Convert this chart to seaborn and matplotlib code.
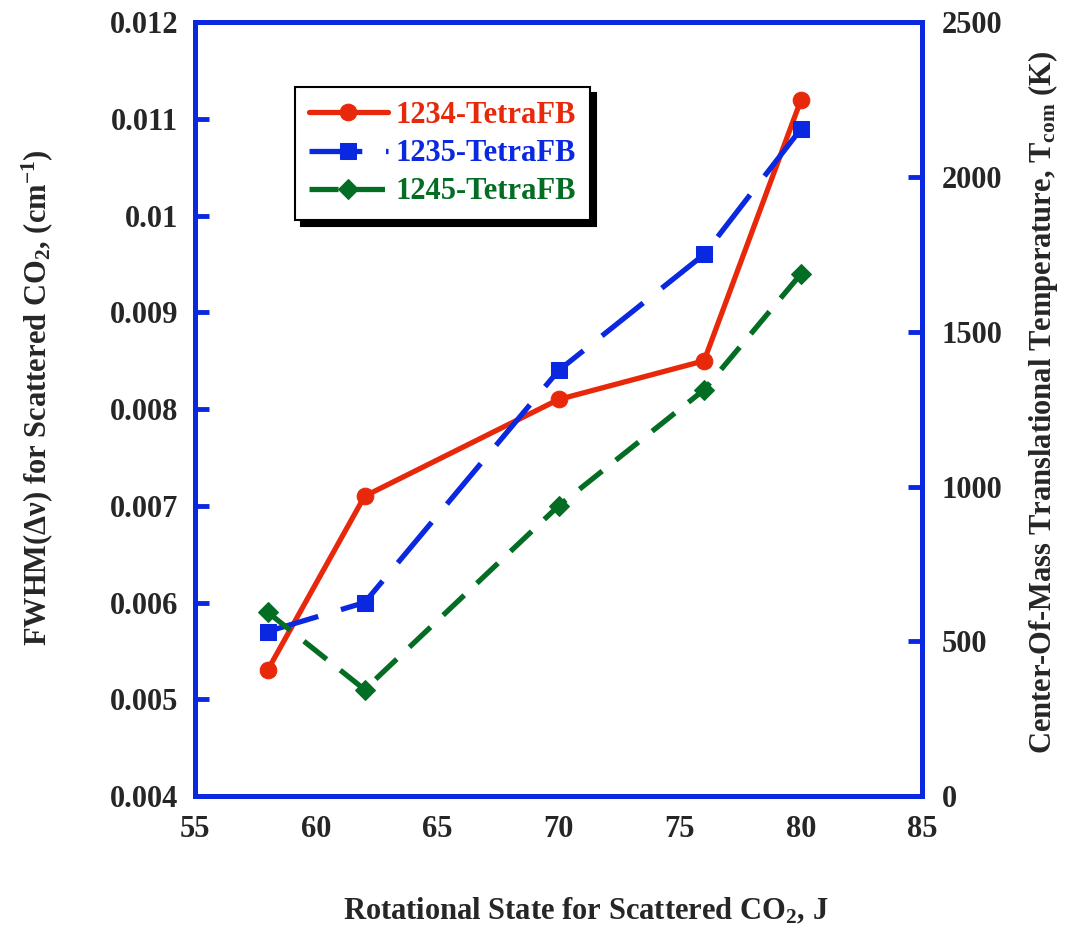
import matplotlib
matplotlib.use("Agg")
import matplotlib.pyplot as plt
import seaborn as sns
import numpy as np
import pandas as pd
from matplotlib.ticker import FuncFormatter, MultipleLocator

J = [58, 62, 70, 76, 80]
fwhm_1234 = [0.0053, 0.0071, 0.0081, 0.0085, 0.0112]
fwhm_1235 = [0.0057, 0.0060, 0.0084, 0.0096, 0.0109]
fwhm_1245 = [0.0059, 0.0051, 0.0070, 0.0082, 0.0094]
series_names = ["1234-TetraFB", "1235-TetraFB", "1245-TetraFB"]

sns.set_style("white")
plt.rcParams['font.family'] = ['Liberation Serif', 'DejaVu Serif']
plt.rcParams['font.weight'] = 'bold'
plt.rcParams['mathtext.fontset'] = 'custom'
plt.rcParams['mathtext.rm'] = 'Liberation Serif:bold'
plt.rcParams['mathtext.it'] = 'Liberation Serif:bold'
plt.rcParams['mathtext.bf'] = 'Liberation Serif:bold'

BLUE = '#0a28e0'
RED = '#e8280a'
GREEN = '#036e23'
FS = 22

fig = plt.figure(figsize=(10.65, 9.32), dpi=100)
ax = fig.add_axes([0.183, 0.146, 0.683, 0.830])

styles = [
    (fwhm_1234, RED, 'o', 12, None),
    (fwhm_1235, BLUE, 's', 11, (10, 4.5)),
    (fwhm_1245, GREEN, 'D', 10, (5.5, 3.3)),
]
for (vals, col, mk, ms, dash), name in zip(styles, series_names):
    df = pd.DataFrame({"J": J, "v": vals})
    sns.lineplot(data=df, x="J", y="v", ax=ax, color=col, marker=mk, markersize=ms,
                 markeredgecolor=col, linewidth=3.8, label=name)
    ln = ax.get_lines()[-1]
    if dash is not None:
        ln.set_dashes(dash)
    ln.set_dash_capstyle('butt')

ax.set_xlim(55, 85)
ax.set_ylim(0.004, 0.012)
ax.xaxis.set_major_locator(MultipleLocator(5))
ax.yaxis.set_major_locator(MultipleLocator(0.001))
ax.yaxis.set_major_formatter(FuncFormatter(lambda v, p: ('%.3f' % v).rstrip('0')))

for s in ax.spines.values():
    s.set_color(BLUE)
    s.set_linewidth(3.6)
    s.set_visible(True)
ax.tick_params(axis='both', direction='in', length=10, width=3.5, color=BLUE,
               labelsize=FS, pad=12)
ax.tick_params(axis='x', pad=14)
ax.set_xlabel("Rotational State for Scattered CO$_2$, J", fontsize=FS, fontweight='bold')
ax.set_ylabel("FWHM(Δν) for Scattered CO$_2$, (cm$^{-1}$)", fontsize=FS, fontweight='bold')
ax.xaxis.set_label_coords(0.537, -0.13)
ax.yaxis.set_label_coords(-0.192, 0.515)
for t in ax.get_xticklabels() + ax.get_yticklabels():
    t.set_fontweight('bold')

ax2 = ax.twinx()
ax2.set_ylim(0, 2500)
ax2.yaxis.set_major_locator(MultipleLocator(500))
for s in ax2.spines.values():
    s.set_visible(False)
ax2.tick_params(axis='y', direction='in', length=10, width=3.5, color=BLUE,
                labelsize=FS, pad=14)
for t in ax2.get_yticklabels():
    t.set_fontweight('bold')
ax2.set_ylabel("Center-Of-Mass Translational Temperature, T$_{com}$ (K)",
               fontsize=FS, fontweight='bold')
ax2.yaxis.set_label_coords(1.143, 0.509)
ax2.grid(False)
ax.grid(False)

handles, labels = ax.get_legend_handles_labels()
leg = ax.legend(handles, labels, loc='upper left', bbox_to_anchor=(0.1376, 0.916),
                frameon=True, shadow={'color': 'black', 'alpha': 1.0, 'ox': 4, 'oy': -4},
                fancybox=False,
                fontsize=FS, handlelength=2.6, handletextpad=0.25, borderpad=0.45,
                labelspacing=0.3, borderaxespad=0)
leg.get_frame().set_edgecolor('black')
leg.get_frame().set_linewidth(1.5)
for txt, col in zip(leg.get_texts(), [RED, BLUE, GREEN]):
    txt.set_color(col)
    txt.set_fontweight('bold')

fig.savefig("out.png", dpi=100)
